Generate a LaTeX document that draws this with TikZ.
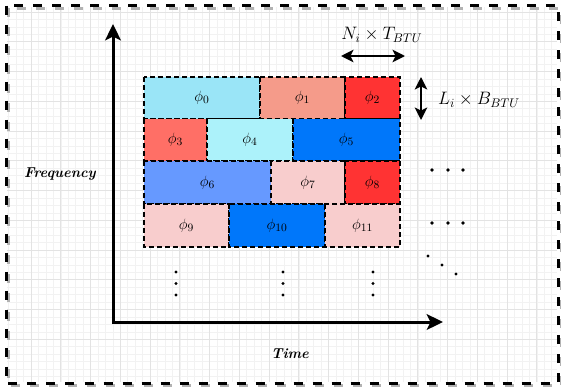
\documentclass[tikz,border=0pt]{standalone}
\usetikzlibrary{arrows.meta}
\definecolor{cA}{RGB}{154,229,247}
\definecolor{cB}{RGB}{245,155,138}
\definecolor{cC}{RGB}{255,51,51}
\definecolor{cD}{RGB}{255,111,102}
\definecolor{cE}{RGB}{172,242,250}
\definecolor{cF}{RGB}{0,119,250}
\definecolor{cG}{RGB}{102,153,255}
\definecolor{cH}{RGB}{248,205,205}
\begin{document}
\begin{tikzpicture}[x=0.8pt,y=-0.8pt,
  minorgrid/.style={draw=black!5,line width=0.4pt},
  majorgrid/.style={draw=black!11,line width=0.6pt},
  frame/.style={line width=2.4pt,dash pattern=on 7.2pt off 8pt},
  blk/.style={draw=black,line width=1.5pt,dash pattern=on 4pt off 2.4pt},
  lbl/.style={font=\fontsize{13}{15}\selectfont},
  axis/.style={line width=2.4pt,{Stealth[length=13pt,width=12.5pt,inset=3pt]}-{Stealth[length=13pt,width=12.5pt,inset=3pt]}},
  dim/.style={line width=2pt,{Stealth[length=10pt,width=10pt,inset=2.5pt]}-{Stealth[length=10pt,width=10pt,inset=2.5pt]}},
  dimtext/.style={font=\fontsize{14}{16}\selectfont},
  axtext/.style={font=\fontsize{11.5}{13}\selectfont\bfseries\itshape},
  dotb/.style={fill=black},
]
\useasboundingbox (0,0) rectangle (561,389);
% grid
\foreach \i in {0,...,73} \draw[minorgrid] ({8.69+7.4375*\i},7) -- ({8.69+7.4375*\i},382);
\foreach \i in {0,...,49} \draw[minorgrid] (7,{11.95+7.4375*\i}) -- (557,{11.95+7.4375*\i});
\foreach \i in {0,...,17} \draw[majorgrid] ({31+29.75*\i},7) -- ({31+29.75*\i},382);
\foreach \i in {0,...,11} \draw[majorgrid] (7,{11.95+29.75*\i}) -- (557,{11.95+29.75*\i});
% frame with shadow
\draw[frame,draw=black!30] (8.5,8) rectangle (561,385.5);
\draw[frame,draw=black] (6,5.5) rectangle (558.5,383);
% blocks
\draw[blk,fill=cA] (144,77) rectangle (260,118.5) node[midway,lbl] (p0) {$\phi_0$};
\draw[blk,fill=cB] (260,77) rectangle (345,118.5) node[midway,lbl] (p1) {$\phi_1$};
\draw[blk,fill=cC] (345,77) rectangle (400,118.5) node[midway,lbl] (p2) {$\phi_2$};
\draw[blk,fill=cD] (144,118.5) rectangle (207,161) node[midway,lbl] (p3) {$\phi_3$};
\draw[blk,fill=cE] (207,118.5) rectangle (293,161) node[midway,lbl] (p4) {$\phi_4$};
\draw[blk,fill=cF] (293,118.5) rectangle (400,161) node[midway,lbl] (p5) {$\phi_5$};
\draw[blk,fill=cG] (144,161) rectangle (271,204) node[midway,lbl] (p6) {$\phi_6$};
\draw[blk,fill=cH] (271,161) rectangle (345,204) node[midway,lbl] (p7) {$\phi_7$};
\draw[blk,fill=cC] (345,161) rectangle (400,204) node[midway,lbl] (p8) {$\phi_8$};
\draw[blk,fill=cH] (144,204) rectangle (229,247) node[midway,lbl] (p9) {$\phi_9$};
\draw[blk,fill=cF] (229,204) rectangle (325,247) node[midway,lbl] (p10) {$\phi_{10}$};
\draw[blk,fill=cH] (325,204) rectangle (400,247) node[midway,lbl] (p11) {$\phi_{11}$};
% axes
\coordinate (ytip) at (113,24);
\coordinate (orig) at (113,322);
\coordinate (xtip) at (443,322);
\draw[axis] (ytip) -- (orig) -- (xtip);
\node[axtext] (freq) at (60,174) {Frequency};
\node[axtext] (time) at (290,354) {Time};
% dimension arrows
\coordinate (nl) at (341,56);
\coordinate (nr) at (405,56);
\draw[dim] (nl) -- (nr);
\node[dimtext] (ntext) at (382,35) {$N_i \times T_{BTU}$};
\coordinate (lt) at (421,77);
\coordinate (lb) at (421,120);
\draw[dim] (lt) -- (lb);
\node[dimtext] (ltext) at (479,100) {$L_i \times B_{BTU}$};
% dots
\foreach \x in {432,448,463} {\fill[dotb] (\x,170) circle (1.9); \fill[dotb] (\x,223) circle (1.9);}
\foreach \x/\y in {428/256,442/265,456/274} \fill[dotb] (\x,\y) circle (1.6);
\foreach \x in {176,283,373} \foreach \y in {272,283.5,295} \fill[dotb] (\x,\y) circle (1.6);
\end{tikzpicture}
\end{document}
